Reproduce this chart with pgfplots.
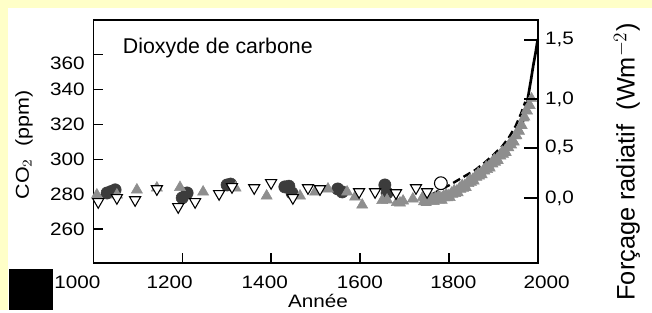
\documentclass[border=0pt]{standalone}
\usepackage{pgfplots}
\pgfplotsset{compat=1.18}
\usepackage{fontspec}
\setmainfont{Liberation Sans}
\usepackage{graphicx}
\definecolor{bgyellow}{HTML}{FFFFC8}
\definecolor{darkc}{HTML}{3C3C3C}
\definecolor{grayt}{HTML}{8E8E8E}
\newcommand{\sx}[1]{\scalebox{1.15}[1]{#1}}
\newcommand{\tl}{\fontsize{13.5}{15}\selectfont}
\begin{document}
\begin{tikzpicture}[x=1pt,y=1pt]
\fill[bgyellow] (0,0) rectangle (489,232.5);
\fill[white] (6,0) rectangle (489,226.5);
\fill[black] (6.75,0) rectangle (39.75,30.75);
\begin{axis}[
  at={(70pt,35.25pt)}, anchor=south west,
  scale only axis, width=333.3pt, height=182.25pt,
  xmin=1000, xmax=2000, ymin=240.5, ymax=380,
  clip=false,
  axis line style={line width=1.2pt},
  every tick/.style={black, line width=1pt},
  tick align=inside, major tick length=7.5pt,
  xtick pos=bottom, ytick pos=left,
  xtick={1000,1200,1400,1600,1800,2000},
  xticklabels={\makebox[0pt]{\hspace*{-24pt}\sx{1000}},\makebox[0pt]{\hspace*{-19pt}\sx{1200}},\makebox[0pt]{\hspace*{-9.5pt}\sx{1400}},\makebox[0pt]{\sx{1600}},\makebox[0pt]{\hspace*{6.75pt}\sx{1800}},\makebox[0pt]{\hspace*{13.5pt}\sx{2000}}},
  xticklabel style={font=\tl, anchor=north, yshift=-6pt},
  ytick={260,280,300,320,340},
  yticklabels={\sx{260},\sx{280},\sx{300},\sx{320},\sx{340}},
  yticklabel style={font=\tl, xshift=-3pt},
  extra y ticks={360},
  extra y tick labels={\sx{360}},
  extra y tick style={tick align=inside, major tick length=7.5pt, yticklabel style={yshift=-6pt}},
]
\addplot[only marks, mark=*, mark size=4.6pt, mark options={fill=darkc, draw=darkc}] coordinates {
(1031,280.7) (1040,281.5) (1049,282.5) (1200,277.9) (1211,280.7) (1301,285.3) (1309,285.8)
(1431,284.2) (1440,284.6) (1447,280.7) (1550,283.0) (1560,281.3) (1656,285.3) (1661,280.7)
};
\addplot[only marks, mark=triangle*, mark size=4.8pt, mark options={fill=grayt, draw=grayt}] coordinates {
(1008,279.6) (1053,279.6) (1098,282.5) (1143,283.6) (1195,283.9) (1247,281.3) (1320,283.6)
(1390,279.0) (1465,279.0) (1499,281.3) (1528,283.0) (1571,281.3) (1589,278.4) (1605,273.8)
(1650,276.4) (1661,276.7) (1683,275.3) (1690,275.0) (1697,276.1) (1719,277.3)
};
\addplot[only marks, mark=triangle*, mark size=4.4pt, mark options={fill=grayt, draw=grayt}] coordinates {
(1740,278.0) (1743,275.6) (1746,277.2) (1749,275.2) (1752,277.8) (1755,276.4) (1758,278.5)
(1761,276.0) (1764,277.6) (1767,275.7) (1770,278.3) (1773,276.8) (1776,278.9) (1779,276.5)
(1782,278.2) (1785,276.4) (1788,279.1) (1791,277.8) (1794,280.1) (1797,277.8) (1800,279.5)
(1803,278.0) (1806,280.9) (1809,279.9) (1812,282.3) (1815,280.3) (1818,282.2) (1821,280.7)
(1824,283.7) (1827,282.7) (1830,285.3) (1833,283.3) (1836,285.3) (1839,283.8) (1842,286.9)
(1845,286.0) (1848,288.6) (1851,286.7) (1854,288.8) (1857,287.4) (1860,290.5) (1863,289.6)
(1866,292.2) (1869,290.3) (1872,292.4) (1875,291.0) (1878,294.1) (1881,293.2) (1884,295.9)
(1887,294.1) (1890,296.3) (1893,294.9) (1896,298.1) (1899,297.3) (1902,300.0) (1905,298.3)
(1908,300.5) (1911,299.3) (1914,302.5) (1917,301.8) (1920,304.5) (1923,302.8) (1926,305.1)
(1929,303.9) (1932,307.2) (1935,306.5) (1938,309.6) (1941,308.2) (1944,310.8) (1947,309.9)
(1950,313.5) (1953,313.5) (1956,317.0) (1959,316.0) (1962,319.3) (1965,319.3) (1968,323.7)
(1971,324.2) (1974,328.1) (1977,327.6) (1980,331.0) (1983,330.8) (1986,335.0)
};
\addplot[only marks, mark=triangle*, mark size=4.8pt, mark options={rotate=180, fill=white, draw=black, line width=0.8pt}] coordinates {
(1011,275.6) (1053,277.9) (1094,276.7) (1143,283.0) (1191,272.7) (1229,275.6) (1283,280.2)
(1312,284.2) (1362,283.6) (1400,286.5) (1449,277.9) (1483,283.6) (1510,283.0) (1598,281.3)
(1634,281.3) (1681,280.7) (1726,283.6) (1751,281.3)
};
\addplot[only marks, mark=*, mark size=4.8pt, mark options={fill=white, draw=black, line width=0.8pt}] coordinates {(1782,286.3)};
\addplot[black, line width=1.8pt, dash pattern=on 6pt off 3pt] coordinates {
(1740,276) (1760,279.5) (1780,282.5) (1800,285) (1820,288) (1840,291) (1860,294)
(1880,298) (1900,302.5) (1920,307.5) (1935,312.5) (1950,319) (1962,326) (1972,333)
};
\addplot[black, line width=2pt] coordinates {
(1958,315) (1965,320) (1970,325.5) (1975,331) (1980,338.5) (1985,346) (1990,354) (1995,361) (2000,369)
};
\node[anchor=base west, font=\fontsize{16}{18}\selectfont] at (rel axis cs:0.056,0.864) {Dioxyde de carbone};
\end{axis}
\begin{axis}[
  at={(70pt,35.25pt)}, anchor=south west,
  scale only axis, width=333.3pt, height=182.25pt,
  xmin=1000, xmax=2000, ymin=240.5, ymax=380,
  axis x line=none, axis y line*=right,
  axis line style={line width=1.2pt},
  every tick/.style={black, line width=1pt},
  tick align=inside, major tick length=10pt,
  ytick={277.8,306.6,334.7,368.6},
  yticklabels={{\sx{0,0}},{\sx{0,5}},{\sx{1,0}},{\sx{1,5}}},
  yticklabel style={font=\tl, xshift=2pt},
]
\end{axis}
\node[rotate=90, font=\fontsize{14}{16}\selectfont] at (18,123.75) {\sx{CO$_2$\ \ (ppm)}};
\node[rotate=90, font=\fontsize{19}{21}\selectfont] at (470.25,111) {Forçage radiatif\ \ (Wm$^{-2}$)};
\node[font=\fontsize{13.5}{15}\selectfont] at (238.5,6.5) {\sx{Année}};
\end{tikzpicture}
\end{document}
